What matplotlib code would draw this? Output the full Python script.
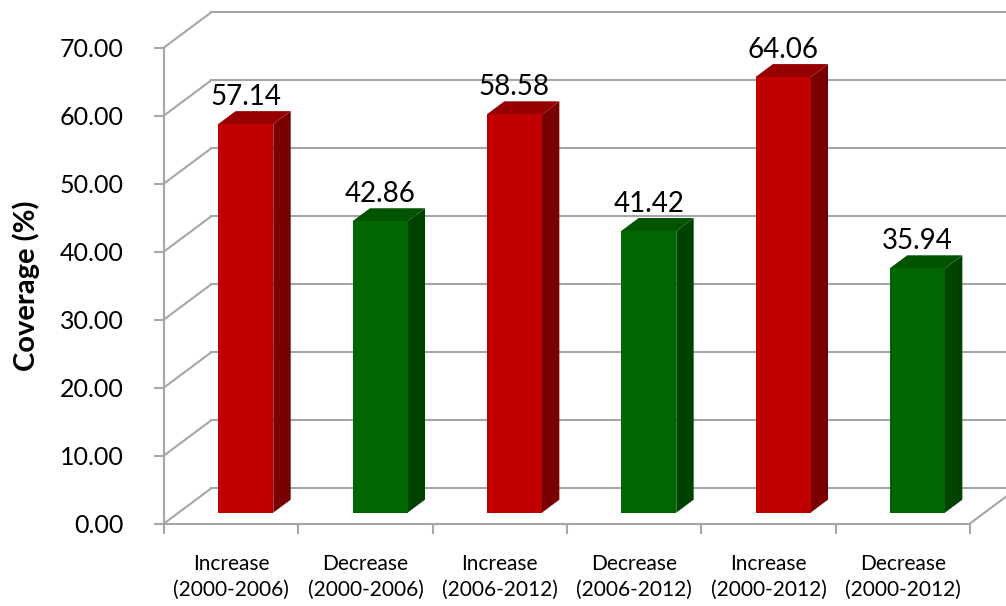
import numpy as np
import matplotlib.pyplot as plt
from matplotlib.patches import Polygon

categories = ['Increase\n(2000-2006)', 'Decrease\n(2000-2006)', 'Increase\n(2006-2012)',
              'Decrease\n(2006-2012)', 'Increase\n(2000-2012)', 'Decrease\n(2000-2012)']
coverage = [57.14, 42.86, 58.58, 41.42, 64.06, 35.94]
yticks = [0, 10, 20, 30, 40, 50, 60, 70]

# front / side / top shades
colors = {
    'Increase': ('#C00000', '#780000', '#960000'),
    'Decrease': ('#006600', '#004200', '#005400'),
}

plt.rcParams['font.family'] = ['Lato', 'DejaVu Sans']

# fake 3d: full depth offset of the back wall, in data units
ddx, ddy = 0.35, 5.15
f0, f1 = 0.31, 0.68      # bar front / back as fraction of depth
w = 0.41
grid_c = '#A6A6A6'

fig = plt.figure(figsize=(10.06, 6.06), dpi=100)
ax = fig.add_axes([164 / 1006, (606 - 523.5) / 606, 806 / 1006, 476 / 606])
n = len(categories)
ax.set_xlim(0, n)
ax.set_ylim(0, 70)

# back wall + left wall gridlines
for t in yticks:
    ax.plot([ddx, n + ddx], [t + ddy, t + ddy], color=grid_c, lw=1.5, clip_on=False, zorder=1)
    ax.plot([0, ddx], [t, t + ddy], color=grid_c, lw=1.5, clip_on=False, zorder=1)
# right edge of the floor
ax.plot([n, n + ddx], [0, ddy], color=grid_c, lw=1.5, clip_on=False, zorder=1)

x = np.arange(n) + 0.5 + f0 * ddx
base = f0 * ddy
fc = [colors[c.split('\n')[0]][0] for c in categories]
bars = ax.bar(x, coverage, width=w, bottom=base, color=fc, zorder=3)

sx, sy = (f1 - f0) * ddx, (f1 - f0) * ddy
for xi, v, c in zip(x, coverage, categories):
    front, side, top = colors[c.split('\n')[0]]
    xl, xr = xi - w / 2, xi + w / 2
    yt = v + base
    ax.add_patch(Polygon([(xr, base), (xr + sx, base + sy), (xr + sx, yt + sy), (xr, yt)],
                         closed=True, facecolor=side, edgecolor='none', zorder=2, clip_on=False))
    ax.add_patch(Polygon([(xl, yt), (xr, yt), (xr + sx, yt + sy), (xl + sx, yt + sy)],
                         closed=True, facecolor=top, edgecolor='none', zorder=2, clip_on=False))

ax.bar_label(bars, labels=['%.2f' % v for v in coverage], padding=10, fontsize=20)

for s in ['top', 'right']:
    ax.spines[s].set_visible(False)
for s in ['left', 'bottom']:
    ax.spines[s].set_color(grid_c)
    ax.spines[s].set_linewidth(1.5)
ax.spines['bottom'].set_zorder(4)

ax.set_yticks(yticks)
ax.set_yticklabels(['%.2f' % t for t in yticks], fontsize=18)
ax.tick_params(axis='y', colors=grid_c, labelcolor='black', length=7, width=1.5, pad=22)

ax.set_xticks(np.arange(n + 1))
ax.set_xticklabels([])
ax.set_xticks(np.arange(n) + 0.5, minor=True)
ax.set_xticklabels(categories, minor=True, fontsize=15, linespacing=1.35)
ax.tick_params(axis='x', which='major', colors=grid_c, length=7, width=1.5)
ax.tick_params(axis='x', which='minor', length=0, pad=22)

ax.set_ylabel('Coverage (%)', fontsize=21, fontweight='bold', labelpad=14)

fig.savefig('out.png', dpi=100)
